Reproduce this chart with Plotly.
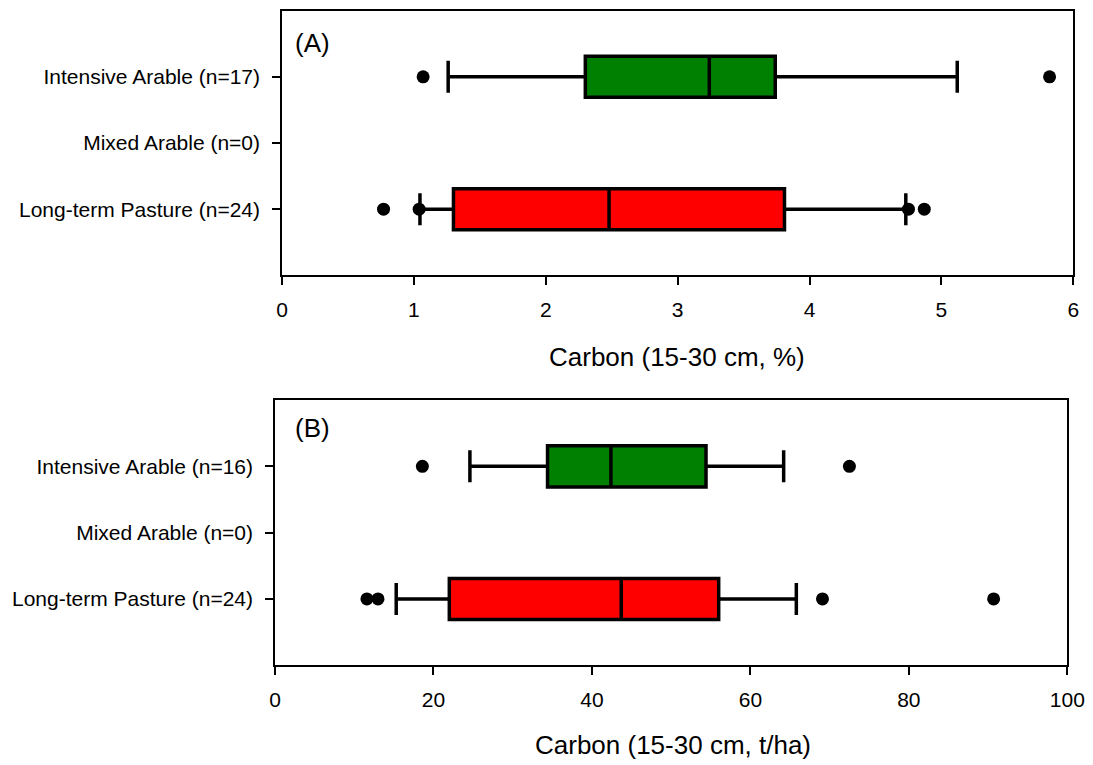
import plotly.graph_objects as go

# ---------------- data ----------------
categories = ["Long-term Pasture", "Mixed Arable", "Intensive Arable"]
labels_a = ["Long-term Pasture (n=24)", "Mixed Arable (n=0)", "Intensive Arable (n=17)"]
labels_b = ["Long-term Pasture (n=24)", "Mixed Arable (n=0)", "Intensive Arable (n=16)"]

# Panel A: Carbon (15-30 cm, %)
a_groups = ["Intensive Arable", "Long-term Pasture"]
a_low = [1.26, 1.046]
a_q1 = [2.30, 1.30]
a_med = [3.24, 2.48]
a_q3 = [3.74, 3.81]
a_high = [5.12, 4.73]
a_out_int = [1.07, 5.82]
a_out_pas = [0.77, 1.04, 4.75, 4.87]

# Panel B: Carbon (15-30 cm, t/ha)
b_groups = ["Intensive Arable", "Long-term Pasture"]
b_low = [24.6, 15.3]
b_q1 = [34.4, 22.0]
b_med = [42.4, 43.7]
b_q3 = [54.4, 56.0]
b_high = [64.2, 65.8]
b_out_int = [18.6, 72.5]
b_out_pas = [11.6, 13.0, 69.1, 90.7]

colors = {"Intensive Arable": "#008000", "Long-term Pasture": "#FF0000"}

FONT = "Liberation Sans, Arial, sans-serif"

fig = go.Figure()


def add_panel(groups, low, q1, med, q3, high, out_int, out_pas, xa, ya):
    for i, g in enumerate(groups):
        pos = categories.index(g)
        fig.add_trace(go.Box(
            y=[pos], q1=[q1[i]], median=[med[i]], q3=[q3[i]],
            lowerfence=[low[i]], upperfence=[high[i]],
            orientation="h", boxpoints=False, width=0.62, whiskerwidth=0.78,
            fillcolor=colors[g], line=dict(color="black", width=3.5),
            xaxis=xa, yaxis=ya, showlegend=False, hoverinfo="skip"))
    for g, vals in (("Intensive Arable", out_int), ("Long-term Pasture", out_pas)):
        pos = categories.index(g)
        fig.add_trace(go.Scatter(
            x=vals, y=[pos] * len(vals), mode="markers",
            marker=dict(color="black", size=13),
            xaxis=xa, yaxis=ya, showlegend=False, hoverinfo="skip"))


add_panel(a_groups, a_low, a_q1, a_med, a_q3, a_high, a_out_int, a_out_pas, "x", "y")
add_panel(b_groups, b_low, b_q1, b_med, b_q3, b_high, b_out_int, b_out_pas, "x2", "y2")

# page has an 8px body margin; compensate so the figure lands on the 1093x765 view
OFF = 8
W, H = 1093 - OFF, 765 - OFF

def px(x):
    return (x - OFF) / W

def py(y):
    return 1 - (y - OFF) / H

axis_common = dict(showline=True, linecolor="black", linewidth=1.5, mirror=True,
                   ticks="outside", ticklen=8, tickwidth=1.5, tickcolor="black",
                   showgrid=False, zeroline=False, automargin=False,
                   tickfont=dict(family=FONT, size=21, color="black"))

ann_font = dict(family=FONT, size=26, color="black")

fig.update_layout(
    template="none",
    width=W, height=H,
    margin=dict(l=0, r=0, t=0, b=0, pad=0),
    paper_bgcolor="white", plot_bgcolor="white",
    font=dict(family=FONT, color="black"),
    xaxis=dict(domain=[px(282), px(1073.3)], range=[0, 6], tickvals=[0, 1, 2, 3, 4, 5, 6],
               anchor="y", ticklabelstandoff=7, **axis_common),
    yaxis=dict(domain=[py(275.3), py(10.7)], range=[-1, 3], tickvals=[0, 1, 2],
               ticktext=labels_a, anchor="x", ticklabelstandoff=8, **axis_common),
    xaxis2=dict(domain=[px(275), px(1067.3)], range=[0, 100], tickvals=[0, 20, 40, 60, 80, 100],
                anchor="y2", ticklabelstandoff=7, **axis_common),
    yaxis2=dict(domain=[py(665.3), py(400)], range=[-1, 3], tickvals=[0, 1, 2],
                ticktext=labels_b, anchor="x2", ticklabelstandoff=8, **axis_common),
    annotations=[
        dict(text="(A)", x=px(312.5), y=py(43), xref="paper", yref="paper",
             xanchor="center", yanchor="middle", showarrow=False, font=ann_font),
        dict(text="(B)", x=px(312.5), y=py(428), xref="paper", yref="paper",
             xanchor="center", yanchor="middle", showarrow=False, font=ann_font),
        dict(text="Carbon (15-30 cm, %)", x=px(677), y=py(357), xref="paper", yref="paper",
             xanchor="center", yanchor="middle", showarrow=False, font=ann_font),
        dict(text="Carbon (15-30 cm, t/ha)", x=px(673), y=py(745), xref="paper", yref="paper",
             xanchor="center", yanchor="middle", showarrow=False, font=ann_font),
    ],
)

fig.write_html("out.html")
